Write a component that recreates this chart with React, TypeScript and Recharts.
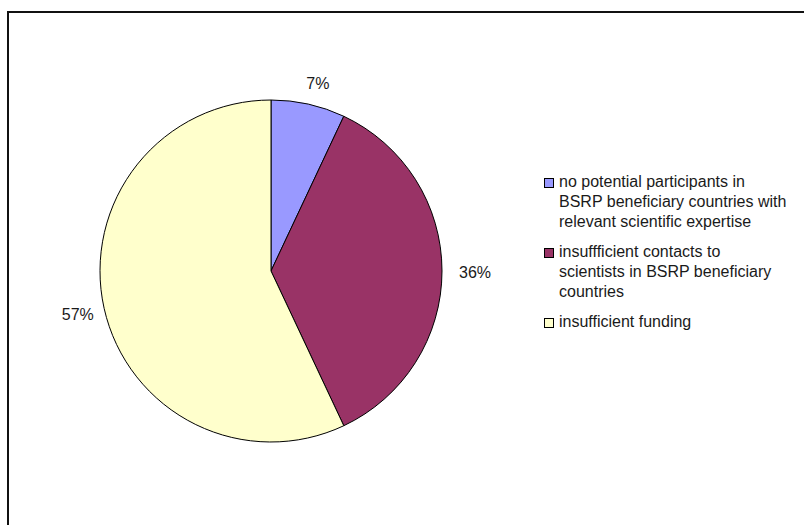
import { Legend, Pie, PieChart, Cell } from 'recharts';

const categories = [
  'no potential participants in\nBSRP beneficiary countries with\nrelevant scientific expertise',
  'insuffficient contacts to\nscientists in BSRP beneficiary\ncountries',
  'insufficient funding',
];
const shares = [7, 36, 57];
const colors = ['#9999FF', '#993366', '#FFFFCC'];

const data = categories.map((name, i) => ({ name, value: shares[i], fill: colors[i] }));

const RAD = Math.PI / 180;
const FONT = '"Liberation Sans", Arial, sans-serif';

function renderLabel(props: any) {
  const { cx, cy, midAngle, outerRadius, value } = props;
  const c = Math.cos(-midAngle * RAD);
  const s = Math.sin(-midAngle * RAD);
  const r = outerRadius + 22;
  const x = cx + r * c + 8 * c + 3;
  const y = cy + r * s + 1;
  return (
    <text x={x} y={y} fill="#1a1a1a" fontSize={16} fontFamily={FONT} textAnchor="middle" dominantBaseline="central">
      {`${value}%`}
    </text>
  );
}

function LegendBox({ payload }: any) {
  return (
    <div style={{ fontFamily: FONT, fontSize: 16, color: '#1a1a1a' }}>
      {(payload || []).map((p: any, i: number) => (
        <div key={i} style={{ display: 'flex', alignItems: 'flex-start', marginBottom: 10 }}>
          <span style={{
            width: 8, height: 8, marginTop: 6, marginRight: 5, flex: 'none',
            background: colors[i], border: '1px solid #000',
          }} />
          <span style={{ whiteSpace: 'pre-line', lineHeight: '20px' }}>{categories[i]}</span>
        </div>
      ))}
    </div>
  );
}

export default function App() {
  return (
    <div style={{ position: 'fixed', left: 0, top: 0, width: 804, height: 525, overflow: 'hidden', background: '#fff' }}>
      <div style={{
        position: 'absolute', left: 7, top: 11, width: 900, height: 700,
        border: '2px solid #111', boxSizing: 'border-box',
      }} />
      <div style={{ position: 'absolute', left: 0, top: 0 }}>
        <PieChart width={804} height={525} margin={{ top: 0, right: 0, bottom: 0, left: 0 }}>
          <Pie
            data={data}
            dataKey="value"
            nameKey="name"
            cx={271}
            cy={271}
            outerRadius={171}
            startAngle={90}
            endAngle={-270}
            stroke="#000"
            strokeWidth={1}
            label={renderLabel}
            labelLine={false}
            isAnimationActive={false}
          >
            {data.map((d, i) => <Cell key={i} fill={d.fill} />)}
          </Pie>
          <Legend
            layout="vertical"
            content={<LegendBox />}
            wrapperStyle={{ left: 544, top: 172, width: 260 }}
          />
        </PieChart>
      </div>
    </div>
  );
}
